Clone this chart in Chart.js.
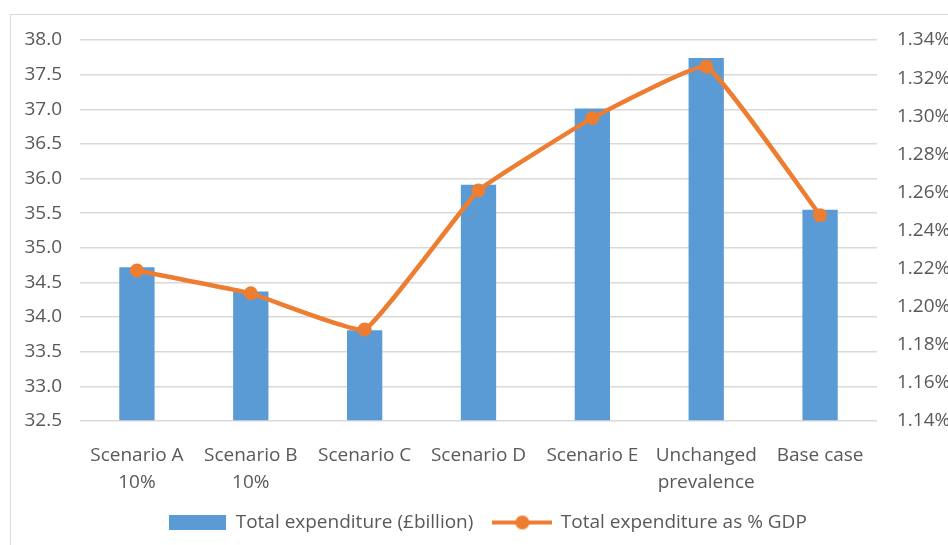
<!DOCTYPE html>
<html>
<head>
<meta charset="utf-8">
<script src="https://cdn.jsdelivr.net/npm/chart.js@4/dist/chart.umd.min.js"></script>
<style>
  html, body { margin: 0; padding: 0; overflow: hidden; background: #fff; }
  #frame {
    position: absolute; left: 10px; top: 14px;
    width: 953px; height: 545px;
    border: 1px solid #d9d9d9;
  }
  canvas { display: block; }
</style>
</head>
<body>
<div id="frame"><canvas id="combo" width="953" height="527"></canvas></div>
<script>
const categories = [
  ["Scenario A", "10%"],
  ["Scenario B", "10%"],
  "Scenario C",
  "Scenario D",
  "Scenario E",
  ["Unchanged", "prevalence"],
  "Base case"
];
const expenditure = [34.72, 34.37, 33.81, 35.91, 37.01, 37.74, 35.55];
const pctGdp = [1.219, 1.207, 1.188, 1.261, 1.299, 1.326, 1.248];

const BLUE = "#5b9bd5";
const ORANGE = "#ed7d31";
const TXT = "#595959";

// legend symbols
function barSymbol() {
  const c = document.createElement("canvas");
  c.width = 57; c.height = 15;
  const g = c.getContext("2d");
  g.fillStyle = BLUE;
  g.fillRect(0, 0, 57, 15);
  return c;
}
function lineSymbol() {
  const c = document.createElement("canvas");
  c.width = 60; c.height = 20;
  const g = c.getContext("2d");
  g.strokeStyle = ORANGE;
  g.lineWidth = 4;
  g.beginPath(); g.moveTo(0, 10); g.lineTo(60, 10); g.stroke();
  g.fillStyle = ORANGE;
  g.beginPath(); g.arc(30, 10, 7, 0, Math.PI * 2); g.fill();
  return c;
}
const symbols = [barSymbol(), lineSymbol()];

Chart.defaults.font.family = "'Open Sans', sans-serif";
Chart.defaults.font.size = 19;
Chart.defaults.color = TXT;

// y axes: fixed width, no extra label overhang padding
function fixY(w) {
  return (s) => { s.width = w; s.paddingTop = 0; s.paddingBottom = 0; };
}

const ctx = document.getElementById("combo").getContext("2d");
const chart = new Chart(ctx, {
  data: {
    labels: categories,
    datasets: [
      {
        type: "line",
        label: "Total expenditure as % GDP",
        data: pctGdp,
        yAxisID: "y2",
        borderColor: ORANGE,
        backgroundColor: ORANGE,
        borderWidth: 4.5,
        pointRadius: 7,
        pointHoverRadius: 7,
        pointBorderWidth: 0,
        tension: 0.1,
        order: 0
      },
      {
        type: "bar",
        label: "Total expenditure (£billion)",
        data: expenditure,
        yAxisID: "y",
        backgroundColor: BLUE,
        barPercentage: 0.31,
        categoryPercentage: 1,
        base: 32.5,
        order: 1
      }
    ]
  },
  options: {
    responsive: false,
    animation: false,
    layout: { padding: { top: 25, bottom: 0, left: 0, right: 0 } },
    scales: {
      x: {
        grid: { display: false },
        border: { display: false },
        ticks: {
          padding: 13, maxRotation: 0, autoSkip: false,
          font: { size: 19, lineHeight: 1.42 }
        },
        afterFit: (s) => { s.height = 72; }
      },
      y: {
        position: "left",
        min: 32.5, max: 38,
        grid: { color: "#d9d9d9", lineWidth: 1.5, drawTicks: false },
        border: { display: false },
        ticks: { stepSize: 0.5, padding: 18, callback: (v) => v.toFixed(1) },
        afterFit: fixY(69)
      },
      y2: {
        position: "right",
        min: 1.14, max: 1.34,
        grid: { display: false, drawTicks: false },
        border: { display: false },
        ticks: { stepSize: 0.02, padding: 20, callback: (v) => v.toFixed(2) + "%" },
        afterFit: fixY(87)
      }
    },
    plugins: {
      tooltip: { enabled: false },
      legend: {
        position: "bottom",
        labels: {
          usePointStyle: true,
          pointStyleWidth: 58,
          boxHeight: 15,
          padding: 20,
          color: TXT,
          sort: (a, b) => b.datasetIndex - a.datasetIndex,
          generateLabels: (ch) => {
            const items = Chart.defaults.plugins.legend.labels.generateLabels(ch);
            items.forEach((it) => {
              it.pointStyle = it.datasetIndex === 1 ? symbols[0] : symbols[1];
            });
            return items;
          }
        }
      }
    }
  }
});
</script>
</body>
</html>
